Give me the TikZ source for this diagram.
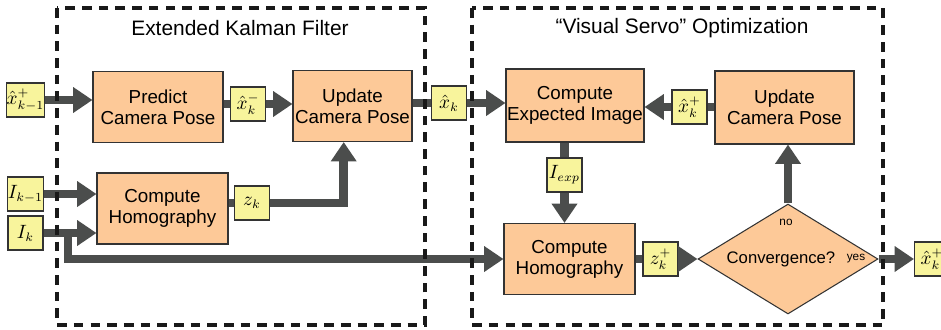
\documentclass[tikz,border=0pt]{standalone}
\usepackage[no-math]{fontspec}
\setmainfont{Liberation Sans}
\usetikzlibrary{shapes.geometric,arrows.meta}

\definecolor{blockfill}{HTML}{FDC998}
\definecolor{notefill}{HTML}{F8F49C}
\definecolor{shaftgray}{HTML}{4B4D4C}

\tikzset{
    block/.style={draw=black!80, line width=0.6pt, fill=blockfill, align=center, inner sep=0pt, minimum height=1.42cm, font=\fontsize{10.7}{12}\selectfont},
    note/.style={draw=black!80, line width=0.6pt, fill=notefill, inner sep=0pt, minimum width=0.7cm, minimum height=0.68cm, font=\fontsize{10.5}{12}\selectfont},
    bigarrow/.style={draw=shaftgray, line width=5pt, -{Triangle[length=11pt,width=14pt]}},
    shaft/.style={draw=shaftgray, line width=5pt},
    frame/.style={draw=black!90, line width=2.2pt, dash pattern=on 5.5pt off 4pt},
    heading/.style={font=\fontsize{11.9}{14}\selectfont},
    tag/.style={font=\fontsize{6.7}{8}\selectfont}
}

\begin{document}
\begin{tikzpicture}[x=0.02cm, y=-0.02cm]
    \useasboundingbox (0,0) rectangle (941,329);

    % Titles
    \node[heading] (ekftitle) at (240,28) {Extended Kalman Filter};
    \node[heading] (vstitle) at (682,28) {“Visual Servo” Optimization};

    % Kalman filter blocks
    \node[block, minimum width=2.6cm] (predict) at (158,107) {Predict\\ Camera Pose};
    \node[block, minimum width=2.38cm] (updateL) at (352.5,106) {Update\\ Camera Pose};
    \node[block, minimum width=2.62cm] (homL) at (162.5,208.5) {Compute\\ Homography};

    % Optimization blocks
    \node[block, minimum width=2.76cm, minimum height=1.46cm] (expimg) at (575,105.5) {Compute\\ Expected Image};
    \node[block, minimum width=2.78cm, minimum height=1.46cm] (updateR) at (784.5,107.5) {Update\\ Camera Pose};
    \node[block, minimum width=2.62cm] (homR) at (569.5,259) {Compute\\ Homography};
    \node[block, diamond, aspect=1.64, minimum width=3.6cm, minimum height=2.2cm, font=\fontsize{9.5}{11}\selectfont] (conv) at (788,259) {\hspace*{-8pt}Convergence?};

    % Signals
    \node[note] (xprev) at (25.5,100) {$\hat{x}_{k-1}^{+}$};
    \node[note] (Ikm1) at (25.5,194) {$I_{k-1}$};
    \node[note] (Ik) at (25.5,233) {$I_k$};
    \node[note] (xminus) at (248,104) {$\hat{x}_k^{-}$};
    \node[note] (zk) at (252,203) {$z_k$};
    \node[note] (xk) at (449,103) {$\hat{x}_k$};
    \node[note] (Iexp) at (564.5,175) {$I_{exp}$};
    \node[note] (xplus) at (689.5,107) {$\hat{x}_k^{+}$};
    \node[note] (zplus) at (660.5,259) {$z_k^{+}$};
    \node[note] (xout) at (932,259) {$\hat{x}_k^{+}$};

    \node[tag] (no) at (786,222) {no};
    \node[tag] (yes) at (856,259) {yes};

    % Kalman filter arrows
    \draw[bigarrow] (xprev) -- (xprev -| predict.west);
    \draw[shaft] (xminus -| predict.east) -- (xminus);
    \draw[bigarrow] (xminus) -- (xminus -| updateL.west);
    \draw[shaft] (xk -| updateL.east) -- (xk);
    \draw[bigarrow] (xk) -- (xk -| expimg.west);
    \draw[bigarrow] (Ikm1) -- (Ikm1 -| homL.west);
    \draw[bigarrow] (Ik) -- (Ik -| homL.west);
    \draw[shaft] (zk -| homL.east) -- (zk);
    \draw[bigarrow] (zk) -| ([xshift=-5pt]updateL.south);
    \coordinate (split) at (68,233);
    \draw[bigarrow] (split) |- (homR.west);

    % Optimization arrows
    \draw[shaft] (Iexp |- expimg.south) -- (Iexp);
    \draw[bigarrow] (Iexp) -- (Iexp |- homR.north);
    \draw[shaft] (xplus -| updateR.west) -- (xplus);
    \draw[bigarrow] (xplus) -- (xplus -| expimg.east);
    \draw[shaft] (zplus -| homR.east) -- (zplus);
    \draw[bigarrow] (zplus) -- (conv);
    \draw[bigarrow] (conv.north) -- (conv.north |- updateR.south);
    \draw[bigarrow] (conv) -- (xout);

    % Dashed frames
    \draw[frame] (57,8) rectangle (425,325);
    \draw[frame] (472,8) rectangle (883,325);
\end{tikzpicture}
\end{document}
